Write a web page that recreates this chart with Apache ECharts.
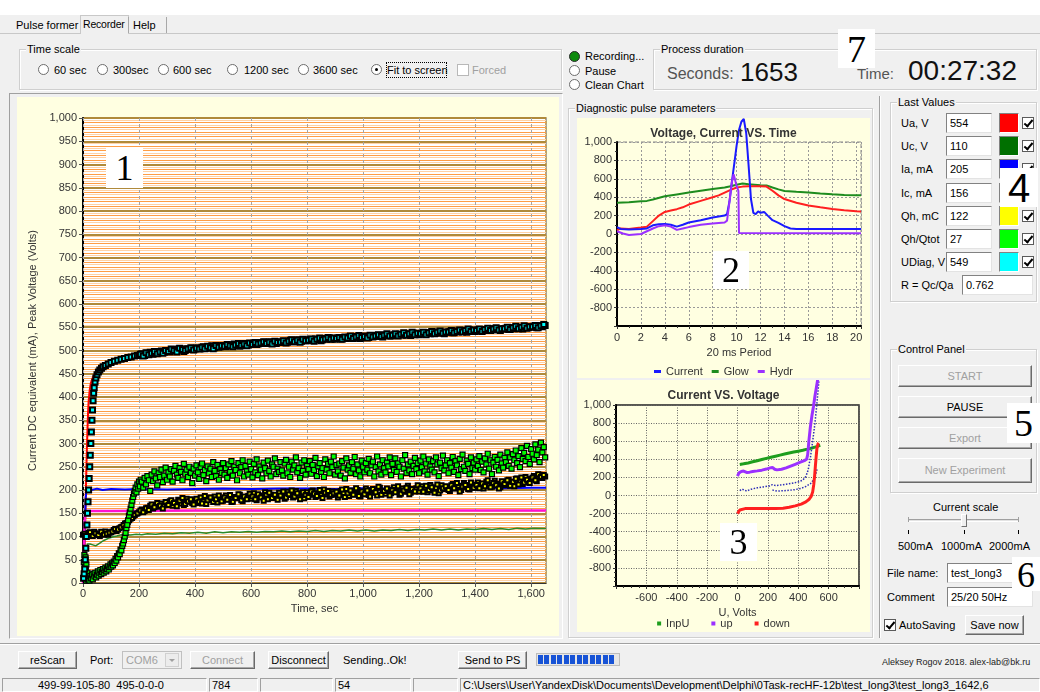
<!DOCTYPE html>
<html><head><meta charset="utf-8">
<script src="https://cdn.jsdelivr.net/npm/echarts@6/dist/echarts.min.js"></script>
<style>
*{box-sizing:border-box}
body{margin:0;width:1040px;height:692px;overflow:hidden;background:#f0f0f0;font:11px "Liberation Sans",Arial,sans-serif;color:#000;position:relative}
.a{position:absolute;white-space:nowrap;line-height:14px}
.grp{position:absolute;border:1px solid #cfcfcf;box-shadow:inset 1px 1px 0 #fff,1px 1px 0 #fff}
.grp>.cap{position:absolute;top:-8px;left:6px;background:#f0f0f0;padding:0 1px;line-height:14px;white-space:nowrap}
.rb{position:absolute;width:11px;height:11px;border-radius:50%;border:1px solid #6d6d6d;background:#fff}
.rb.on::after{content:"";position:absolute;left:3px;top:3px;width:3px;height:3px;border-radius:50%;background:#000}
.cb{position:absolute;width:12px;height:12px;border:1px solid #5a5a5a;background:#fff}
.cb.on::after{content:"";position:absolute;left:3px;top:0px;width:3px;height:7px;border:solid #000;border-width:0 2px 2px 0;transform:rotate(40deg)}
.tb{position:absolute;background:#fff;border:1px solid;border-color:#828282 #e3e3e3 #e3e3e3 #828282;padding:2px 0 0 3px;line-height:14px;height:20px;white-space:nowrap;overflow:hidden}
.btn{position:absolute;background:#f0f0f0;border:1px solid;border-color:#fff #6a6a6a #6a6a6a #fff;box-shadow:inset -1px -1px 0 #a8a8a8;text-align:center;white-space:nowrap}
.dis{color:#a0a0a0}
.num{position:absolute;background:#fff;font-family:"Liberation Serif",serif;text-align:center;color:#000;z-index:5}
.chart{position:absolute;background:#ffffe1}
.sp{position:absolute;top:678px;height:14px;border:1px solid;border-color:#a0a0a0 #fff #fff #a0a0a0;line-height:12px;white-space:nowrap;overflow:hidden;padding-left:2px}
</style></head>
<body>
<script>
// ---------------- DATA ----------------
// Chart 1: recorder (time, sec -> value)
const uaLine = [[0,5],[2,15],[4,30],[6,90],[8,135],[10,190],[12,245],[14,290],[16,330],[18,365],[20,390],[24,415],[28,430],[35,442],[45,452],[60,462],[80,469],[100,474],[150,483],[200,490],[300,499],[400,505],[500,510],[600,514],[700,518],[800,522],[900,526],[1000,529],[1100,532],[1200,535],[1300,539],[1400,543],[1500,546],[1600,550],[1653,554]];
const ucLine = [[5,20],[8,50],[10,65],[13,78],[16,84],[20,86],[25,84],[30,80],[35,82],[40,78],[45,80],[50,83],[60,86],[70,90],[80,93],[90,96],[100,98],[110,100],[120,101],[135,103],[150,104],[170,103],[190,105],[210,104],[230,106],[260,105],[290,107],[320,106],[350,108],[380,107],[410,109],[440,107],[470,110],[500,108],[530,110],[560,109],[590,111],[620,109],[650,111],[680,110],[710,112],[740,110],[770,112],[800,111],[830,113],[860,111],[890,113],[920,112],[950,114],[980,112],[1010,114],[1040,112],[1070,114],[1100,113],[1130,115],[1160,113],[1190,115],[1220,114],[1250,116],[1280,114],[1310,116],[1340,114],[1370,116],[1400,115],[1430,117],[1460,115],[1490,117],[1520,115],[1550,118],[1580,116],[1610,118],[1653,117]];
const iaLine = [[0,0],[2,40],[4,80],[6,110],[8,150],[10,185],[12,197],[16,201],[30,200],[50,203],[70,200],[100,202],[150,201],[200,202],[300,201],[400,202],[500,203],[600,202],[700,203],[800,203],[900,202],[1000,204],[1100,203],[1200,204],[1300,204],[1400,205],[1500,204],[1600,205],[1653,205]];
const icLine = [[0,0],[2,50],[4,100],[6,135],[8,150],[10,155],[30,155],[100,155],[400,156],[800,156],[1200,156],[1653,156]];
// Qh: samples every 10 s from t = 0, and every 10 s from t = 5
const qhVals = [104,100,108,103,110,105,101,107,111,104, 109,114,112,118,121,128,131,138,143,149, 152,158,155,162,166,160,168,164,171,167, 170,176,166,173,179,171,168,181,175,172, 178,172,184,176,170,182,179,186,173,181, 177,188,180,174,185,182,190,176,184,187, 181,193,178,188,185,195,180,190,186,183, 194,187,181,196,189,184,198,188,192,182, 195,190,199,185,193,188,201,191,186,197, 190,184,198,193,202,187,195,191,200,186, 196,203,189,199,194,188,205,197,192,201, 193,206,198,190,203,196,209,194,200,204, 197,208,201,195,211,199,205,193,210,202, 206,198,213,203,209,200,215,207,201,212, 205,216,209,203,218,211,207,220,213,206, 217,210,222,215,208,225,218,213,228,220, 224,230,219,233,226,229];
const qhValsB = [106,102,109,101,107,103,110,104,106,108, 111,116,115,120,125,129,135,140,146,150, 156,152,161,157,169,163,172,166,160,174, 168,178,172,165,177,183,170,176,180,169, 181,175,171,187,178,184,174,180,188,176, 184,179,189,175,183,191,178,186,180,192, 186,180,191,184,177,189,194,183,190,179, 188,197,184,191,199,186,193,180,195,189, 185,197,192,187,200,183,194,198,189,193, 196,188,201,185,193,199,190,204,187,197, 191,199,186,202,195,207,190,198,203,188, 200,195,208,192,199,205,191,202,197,210, 203,196,209,200,206,194,212,199,204,208, 200,210,204,215,197,207,211,202,216,205, 211,204,214,208,221,206,215,210,203,219, 213,221,209,218,224,212,227,216,222,215, 227,221,234,228,232];
// Qh/Qtot: early points, then one sample every 5 s from t = 210
const qtEarly = [[3,45],[5,60],[6,20],[7,35],[8,10],[9,55],[10,28],[11,5],[12,40],[14,15],[16,22],[18,8],[20,12],[23,5],[26,15],[29,10],[32,18],[35,8],[38,20],[41,14],[44,22],[47,12],[50,18],[53,25],[56,16],[59,22],[62,28],[65,19],[68,24],[71,30],[74,22],[77,27],[80,33],[83,25],[86,30],[89,36],[92,29],[95,34],[98,40],[101,35],[104,42],[107,38],[110,46],[113,43],[116,52],[119,48],[122,58],[125,55],[128,64],[131,62],[134,72],[137,70],[140,80],[143,85],[146,92],[149,100],[152,108],[155,118],[158,125],[161,135],[164,145],[167,152],[170,160],[173,168],[176,177],[179,185],[182,192],[185,198],[188,205],[191,195],[194,212],[197,203],[200,218],[203,208],[206,222]];
const qtVals = [218,205,226,212,230,221,198,233,219,240,225,210,236,228,244,217,231,248,222,238,
229,245,218,241,252,233,226,247,239,221,256,235,244,228,250,237,215,246,231,253,
238,224,249,257,232,243,219,251,236,246,228,260,241,230,254,222,245,237,258,233,
247,226,255,239,262,231,250,243,221,258,236,249,264,229,252,240,233,261,245,227,
256,238,266,232,251,244,225,259,247,236,263,241,229,255,250,268,234,246,239,260,
242,231,257,265,236,250,228,261,244,253,270,238,247,226,259,241,264,233,252,245,
262,235,254,243,269,230,251,258,239,247,228,266,244,256,236,261,249,272,233,254,
240,257,231,262,248,225,268,244,253,237,260,246,271,234,255,242,229,263,250,238,
258,244,267,236,253,261,229,249,272,240,255,233,264,247,238,259,251,270,232,256,
243,268,239,257,250,229,264,246,275,237,255,242,261,234,252,269,245,258,236,263,
249,272,240,257,233,266,251,244,262,238,270,255,230,259,247,274,242,253,264,236,
258,248,271,239,262,253,232,267,245,276,250,241,263,256,234,270,247,259,244,266,
252,273,243,261,238,268,255,278,246,264,234,259,271,250,265,242,276,257,248,269,
260,281,252,270,246,277,264,285,258,273,249,290,267,280,262,295,271,256,288,278,
266,298,275,287,260,302,281,292,270];
// UDiag: early points, then samples every 10 s from t = 200 and from t = 205
const udEarly = [[2,10],[4,20],[6,30],[8,50],[10,75],[12,100],[14,125],[16,150],[18,175],[20,200],[22,225],[24,250],[26,275],[28,300],[30,325],[32,350],[34,372],[36,392],[38,408],[40,420],[43,432],[46,441],[50,448],[55,454],[60,458],[66,462],[72,465],[80,468],[90,471],[100,474],[112,477],[124,479],[136,481],[148,483],[160,485],[172,486],[184,488],[194,489]];
const udVals = [490,493,489,494,496,492,497,495,499,496, 500,497,502,499,503,501,498,504,502,505, 503,506,504,508,505,507,510,506,509,508, 511,508,512,510,514,511,509,513,515,512, 514,516,513,517,515,518,516,519,517,515, 519,517,520,518,522,519,521,523,520,522, 521,524,522,525,523,521,526,524,527,525, 524,527,525,528,526,529,527,530,528,526, 529,531,528,532,530,533,531,529,534,532, 531,534,532,535,533,536,534,532,537,535, 534,537,535,538,536,539,537,540,538,536, 539,541,538,542,540,543,541,539,544,542, 541,544,542,545,543,546,544,547,545,543, 546,548,545,549,547,550,548,546,551,549, 550,552,549,553,551,554];
const udValsB = [492,488,495,491,494,498,493,497,494,500, 498,503,500,497,505,502,500,503,506,501, 505,503,507,504,509,506,504,511,507,510, 509,513,510,508,512,515,511,514,510,516, 513,517,514,516,519,515,518,514,520,517, 518,521,516,520,523,519,522,518,524,521, 522,525,520,524,527,523,525,528,524,527, 526,528,524,529,527,531,526,529,532,528, 530,527,533,529,531,534,530,533,536,531, 533,536,531,535,538,533,536,539,534,537, 536,539,534,538,541,536,539,542,537,540, 540,543,538,541,544,540,543,546,541,544, 543,546,541,545,548,543,546,549,544,547, 547,550,545,549,552,547,550,553,548,551, 551,554,549,553,556];

// Chart 2: diagnostic pulse (ms -> value)
const glow = [[0,340],[1,345],[2,355],[2.5,360],[3,375],[4,410],[5,430],[6,450],[7,470],[8,490],[9,505],[9.5,520],[10,535],[10.5,548],[11,540],[12,530],[12.5,528],[13,505],[13.5,485],[14,468],[15,458],[16,450],[17,440],[18,432],[19,425],[20,421],[20.4,420]];
const voltRed = [[0,40],[0.3,60],[1,55],[2,70],[2.5,80],[3,140],[3.5,200],[4,240],[4.5,255],[5,270],[5.5,290],[6,320],[7,360],[8,400],[8.5,420],[9,450],[9.5,480],[10,505],[10.5,515],[11,520],[12,520],[12.5,515],[13,470],[13.5,420],[14,380],[15,340],[16,310],[17,290],[18,272],[19,258],[20,248],[20.4,245]];
const current = [[0,75],[0.3,55],[1,50],[2,55],[2.5,60],[3,95],[3.5,105],[4,110],[4.5,100],[5,80],[5.5,100],[6,125],[7,150],[8,180],[9,200],[9.2,215],[9.4,350],[9.6,560],[9.8,760],[10,960],[10.2,1130],[10.4,1220],[10.6,1250],[10.8,1100],[11,750],[11.2,380],[11.4,230],[11.6,215],[11.8,245],[12,230],[12.3,240],[12.6,200],[13,150],[13.5,120],[14,85],[14.5,60],[15,55],[20.4,55]];
const hydr = [[0,30],[0.5,5],[1,-10],[1.5,-5],[2,0],[2.5,30],[3,60],[3.5,85],[4,95],[4.5,80],[5,45],[5.5,60],[6,75],[7,100],[8,115],[9,125],[9.2,145],[9.4,350],[9.6,560],[9.75,650],[9.85,600],[10,520],[10.15,470],[10.2,10],[20.4,8]];

// Chart 3: current vs voltage (U, Volts -> value)
const inpU = [[15,343],[40,350],[70,360],[100,372],[130,384],[160,397],[190,410],[220,422],[250,434],[280,446],[310,458],[340,470],[370,480],[400,490],[430,500],[460,512],[490,525],[515,538],[535,550],[545,555]];
const upLine = [[0,215],[10,250],[25,265],[40,270],[60,255],[80,258],[100,265],[130,272],[160,280],[190,292],[215,305],[230,310],[245,290],[260,283],[290,290],[320,305],[350,325],[380,345],[410,365],[440,385],[455,400],[462,450],[470,600],[480,760],[490,880],[500,980],[510,1100],[520,1200],[528,1280]];
const downLine = [[0,-200],[8,-190],[15,-160],[25,-145],[50,-145],[100,-145],[150,-145],[200,-145],[250,-143],[300,-140],[340,-130],[380,-115],[420,-95],[450,-70],[470,-45],[485,-10],[495,40],[502,120],[508,220],[513,330],[518,430],[523,520],[530,570],[535,580]];
const midA = [[15,55],[30,70],[45,60],[60,50],[90,70],[130,85],[170,95],[210,105],[230,120],[250,110],[280,115],[320,125],[360,135],[400,150],[430,170],[450,210],[465,280],[480,420],[495,600],[510,800],[522,1000],[530,1150],[536,1260]];
const midB = [[230,60],[260,50],[300,52],[340,58],[380,65],[420,80],[450,100],[480,130],[500,170],[515,230],[525,300]];

// Right panel values
const lastNames = ['Ua, V','Uc, V','Ia, mA','Ic, mA','Qh, mC','Qh/Qtot','UDiag, V'];
const lastVals = ['554','110','205','156','122','27','549'];
const swatchColors = ['#ff0000','#007000','#0000ff','#ff00ff','#ffff00','#00ff00','#00ffff'];
const ratioText = '0.762';
const timeScaleOpts = ['60 sec','300sec','600 sec','1200 sec','3600 sec','Fit to screen'];
</script>

<!-- window chrome -->
<div class="a" style="left:0;top:0;width:1040px;height:15px;background:#fff"></div>
<div class="a" style="left:0;top:33px;width:1040px;height:1px;background:#c8c8c8"></div>
<div class="a" style="left:16px;top:18px">Pulse former</div>
<div class="a" style="left:80px;top:15px;width:49px;height:19px;border:1px solid #c8c8c8;border-bottom:none;background:#f0f0f0;padding:1px 0 0 2px;font-size:10.5px;letter-spacing:-0.2px">Recorder</div>
<div class="a" style="left:128px;top:17px;width:39px;height:16px;border-left:1px solid #a8a8a8;border-right:1px solid #a8a8a8;padding:1px 0 0 4px">Help</div>

<div class="grp" style="left:19px;top:49px;width:543px;height:41px"><div class="cap">Time scale</div></div>
<div id="tsRow"></div>
<div class="a" style="left:386px;top:62px;width:61px;height:16px;border:1px dotted #000"></div>
<div class="cb" style="left:457px;top:64px;border-color:#b8b8b8"></div>
<div class="a dis" style="left:472px;top:63px">Forced</div>

<div class="rb" style="left:569px;top:51px;background:#0d8a0d;border-color:#2a2a2a"></div>
<div class="a" style="left:585px;top:49px">Recording...</div>
<div class="rb" style="left:569px;top:65px"></div>
<div class="a" style="left:585px;top:64px">Pause</div>
<div class="rb" style="left:569px;top:79px"></div>
<div class="a" style="left:585px;top:78px">Clean Chart</div>

<div class="grp" style="left:653px;top:49px;width:384px;height:41px"><div class="cap">Process duration</div></div>
<div class="a" style="left:667px;top:64px;font-size:16px;line-height:19px;color:#555">Seconds:</div>
<div class="a" style="left:740px;top:57px;font-size:26px;line-height:30px;color:#111">1653</div>
<div class="a" style="left:857px;top:65px;font-size:15px;line-height:18px;color:#555">Time:</div>
<div class="a" style="left:908px;top:55px;font-size:28px;line-height:32px;color:#111">00:27:32</div>
<div class="num" style="left:838px;top:29px;width:37px;height:39px;font-size:38px;line-height:40px">7</div>

<!-- main chart -->
<div class="a" style="left:9px;top:93px;width:554px;height:546px;border:1px solid;border-color:#a0a0a0 #fff #fff #a0a0a0"></div>
<div id="c1" class="chart" style="left:17px;top:97px;width:542px;height:539px"></div>
<div class="num" style="left:106px;top:148px;width:37px;height:40px;font-size:36px;line-height:40px">1</div>

<!-- diagnostic -->
<div class="grp" style="left:568px;top:108px;width:305px;height:530px"><div class="cap">Diagnostic pulse parameters</div></div>
<div id="c2" class="chart" style="left:577px;top:118px;width:293px;height:260px"></div>
<div id="c3" class="chart" style="left:577px;top:380px;width:293px;height:252px"></div>
<div class="num" style="left:713px;top:251px;width:36px;height:38px;font-size:36px;line-height:39px">2</div>
<div class="num" style="left:720px;top:523px;width:37px;height:38px;font-size:36px;line-height:39px">3</div>

<div class="a" style="left:879px;top:96px;width:2px;height:542px;border-left:1px solid #a0a0a0;border-right:1px solid #fff"></div>

<!-- last values -->
<div class="grp" style="left:890px;top:102px;width:147px;height:200px"><div class="cap">Last Values</div></div>
<div id="lv"></div>
<div class="a" style="left:901px;top:278px">R = Qc/Qa</div>
<div class="tb" id="ratio" style="left:962px;top:275px;width:71px"></div>
<div class="num" style="left:1000px;top:168px;width:38px;height:39px;font-family:'Liberation Sans',Arial,sans-serif;font-size:40px;line-height:40px">4</div>

<!-- control panel -->
<div class="grp" style="left:890px;top:349px;width:147px;height:144px"><div class="cap">Control Panel</div></div>
<div class="btn dis" style="left:898px;top:365px;width:134px;height:22px;line-height:20px">START</div>
<div class="btn" style="left:898px;top:396px;width:134px;height:22px;line-height:20px">PAUSE</div>
<div class="btn dis" style="left:898px;top:427px;width:134px;height:22px;line-height:20px">Export</div>
<div class="btn dis" style="left:898px;top:458px;width:134px;height:25px;line-height:23px">New Experiment</div>
<div class="num" style="left:1007px;top:403px;width:33px;height:40px;font-size:38px;line-height:40px">5</div>

<div class="a" style="left:933px;top:500px">Current scale</div>
<div class="a" style="left:908px;top:519px;width:111px;height:3px;border-top:1px solid #a0a0a0;border-bottom:1px solid #fff;background:#e3e3e3"></div>
<div class="a" style="left:908px;top:517px;width:1px;height:5px;background:#a0a0a0"></div>
<div class="a" style="left:1018px;top:517px;width:1px;height:5px;background:#a0a0a0"></div>
<div class="a" style="left:961px;top:514px;width:6px;height:13px;background:#f0f0f0;border:1px solid #707070;border-top-color:#fff;border-left-color:#fff"></div>
<div class="a" style="left:908px;top:530px;width:1px;height:4px;background:#000"></div>
<div class="a" style="left:964px;top:530px;width:1px;height:4px;background:#000"></div>
<div class="a" style="left:1018px;top:530px;width:1px;height:4px;background:#000"></div>
<div class="a" style="left:898px;top:539px">500mA</div>
<div class="a" style="left:941px;top:539px">1000mA</div>
<div class="a" style="left:989px;top:539px">2000mA</div>

<div class="a" style="left:887px;top:566px">File name:</div>
<div class="tb" style="left:947px;top:563px;width:86px">test_long3</div>
<div class="num" style="left:1012px;top:557px;width:28px;height:34px;font-size:36px;line-height:36px">6</div>
<div class="a" style="left:887px;top:590px">Comment</div>
<div class="tb" style="left:947px;top:587px;width:86px">25/20 50Hz</div>
<div class="cb on" style="left:884px;top:619px"></div>
<div class="a" style="left:899px;top:618px">AutoSaving</div>
<div class="btn" style="left:965px;top:615px;width:59px;height:20px;line-height:18px">Save now</div>

<!-- bottom bar -->
<div class="a" style="left:0;top:643px;width:1040px;height:2px;border-top:1px solid #a0a0a0;border-bottom:1px solid #fff"></div>
<div class="btn" style="left:18px;top:651px;width:59px;height:18px;line-height:16px">reScan</div>
<div class="a" style="left:90px;top:653px">Port:</div>
<div class="a dis" style="left:122px;top:651px;width:60px;height:18px;border:1px solid #c0c0c0;background:#f0f0f0;padding:1px 0 0 3px">COM6</div>
<div class="a" style="left:165px;top:653px;width:14px;height:14px;border:1px solid #d0d0d0;background:#ececec"></div>
<div class="a" style="left:169px;top:659px;width:0;height:0;border-left:3px solid transparent;border-right:3px solid transparent;border-top:3px solid #a0a0a0"></div>
<div class="btn dis" style="left:190px;top:651px;width:65px;height:18px;line-height:16px">Connect</div>
<div class="btn" style="left:268px;top:651px;width:61px;height:18px;line-height:16px">Disconnect</div>
<div class="a" style="left:343px;top:653px">Sending..Ok!</div>
<div class="btn" style="left:458px;top:651px;width:69px;height:18px;line-height:16px">Send to PS</div>
<div class="a" style="left:536px;top:653px;width:84px;height:13px;border:1px solid #bcbcbc;background:#e6e6e6"></div>
<div class="a" style="left:538px;top:655px;width:77px;height:9px;background:repeating-linear-gradient(90deg,#1753d6 0 5px,transparent 5px 6.5px)"></div>
<div class="a" style="left:882px;top:655px;font-size:9px;color:#222">Aleksey Rogov 2018. alex-lab@bk.ru</div>

<div class="sp" style="left:2px;width:205px;padding-left:35px">499-99-105-80&nbsp;&nbsp;495-0-0-0</div>
<div class="sp" style="left:209px;width:49px">784</div>
<div class="sp" style="left:260px;width:73px"></div>
<div class="sp" style="left:335px;width:76px">54</div>
<div class="sp" style="left:413px;width:45px"></div>
<div class="sp" style="left:460px;width:580px">C:\Users\User\YandexDisk\Documents\Development\Delphi\0Task-recHF-12b\test_long3\test_long3_1642,6</div>

<script>
// ---- UI rows built from arrays ----
(function(){
  const ts = document.getElementById('tsRow');
  const cx = [38,97,158,227,298,371], tx = [54,113,173,244,313,387];
  timeScaleOpts.forEach((t,i)=>{
    ts.insertAdjacentHTML('beforeend',
      `<div class="rb${i===5?' on':''}" style="left:${cx[i]}px;top:64px"></div><div class="a" style="left:${tx[i]}px;top:63px">${t}</div>`);
  });
  const lv = document.getElementById('lv');
  lastNames.forEach((n,i)=>{
    const cy = 123 + i*23.2;
    lv.insertAdjacentHTML('beforeend',
      `<div class="a" style="left:901px;top:${cy-7}px">${n}</div>`+
      `<div class="tb" style="left:946px;top:${cy-10}px;width:46px">${lastVals[i]}</div>`+
      `<div class="a" style="left:999px;top:${cy-10}px;width:20px;height:20px;border:1px solid;border-color:#828282 #fff #fff #828282;background:${swatchColors[i]}"></div>`+
      `<div class="cb on" style="left:1022px;top:${cy-6}px"></div>`);
  });
  document.getElementById('ratio').textContent = ratioText;
})();

// ---- Charts ----
const FF = '"Liberation Sans", Arial, sans-serif';
const stepped = (t0, dt, vals) => vals.map((v,i)=>[t0+i*dt, v]);
const sq = (name, data, color, size, bw) => ({name, type:'scatter', data, symbol:'rect', symbolSize:size, silent:true, z:3,
  itemStyle:{color, borderColor:'#000', borderWidth:bw, opacity:1}});
const ln = (name, data, color, w, extra) => Object.assign({name, type:'line', data, showSymbol:false, silent:true, z:2,
  lineStyle:{color, width:w}, itemStyle:{color}}, extra||{});
const lbl = {fontFamily:FF, fontSize:11, color:'#333'};

const c1 = echarts.init(document.getElementById('c1'));
c1.setOption({
  animation:false,
  grid:{left:66,right:13,top:21,bottom:53,show:true,backgroundColor:'#fff',borderColor:'#a8873c',borderWidth:1.5,outerBoundsMode:'none'},
  xAxis:{type:'value',min:0,max:1653,interval:200,z:2,
    name:'Time, sec',nameLocation:'middle',nameGap:20,nameTextStyle:lbl,
    axisLine:{lineStyle:{color:'#333',width:1}},axisTick:{show:true,length:4,lineStyle:{color:'#555'}},
    axisLabel:Object.assign({showMaxLabel:false,margin:5},lbl),
    splitLine:{show:true,lineStyle:{color:'#a4a4a4',width:1,type:[3,3]}}},
  yAxis:[
    {type:'value',min:0,max:1000,interval:50,z:1,
      name:'Current DC equivalent (mA), Peak Voltage (Volts)',nameLocation:'middle',nameGap:43,nameTextStyle:lbl,
      axisLine:{show:true,lineStyle:{color:'#000',width:2}},axisTick:{show:true,length:4,lineStyle:{color:'#555'}},
      axisLabel:Object.assign({margin:6},lbl),
      splitLine:{show:true,lineStyle:{color:'#b08a3a',width:2}},
      minorTick:{show:false,splitNumber:5},
      minorSplitLine:{show:true,lineStyle:{color:'#ff9d45',width:1}}},
    {type:'value',min:0,max:1000,interval:5,z:0,position:'left',
      axisLine:{show:false},axisTick:{show:false},axisLabel:{show:false},
      splitLine:{show:true,lineStyle:{color:'#ffd2a6',width:1}}}
  ],
  series:[
    ln('Ua, V', uaLine, '#ff0000', 2),
    ln('Uc, V', ucLine, '#2a8a2a', 1.5),
    ln('Ia, mA', iaLine, '#0000ff', 2),
    ln('Ic, mA', icLine, '#ff10d0', 2.5),
    sq('Qh, mC', stepped(0,10,qhVals).concat(stepped(5,10,qhValsB)), '#ffff00', 4, 2),
    sq('Qh/Qtot', qtEarly.concat(stepped(210,5,qtVals)), '#00ff00', 5, 1.2),
    sq('UDiag, V', udEarly.concat(stepped(200,10,udVals), stepped(205,10,udValsB)), '#00ffff', 5, 2)
  ]
});

const c2 = echarts.init(document.getElementById('c2'));
c2.setOption({
  animation:false,
  title:{text:'Voltage, Current VS. Time',left:'center',top:5,textStyle:{fontFamily:FF,fontSize:12,fontWeight:'bold',color:'#333'}},
  grid:{left:40,right:9,top:24,bottom:52,show:true,borderColor:'#888',borderWidth:1,borderType:'dashed',outerBoundsMode:'none'},
  legend:{top:243,left:'center',icon:'rect',itemWidth:7,itemHeight:3,itemGap:9,textStyle:lbl,data:['Current','Glow','Hydr']},
  xAxis:{type:'value',min:0,max:20.4,interval:2,name:'20 ms Period',nameLocation:'middle',nameGap:21,nameTextStyle:lbl,
    axisLine:{onZero:false,lineStyle:{color:'#000',width:2}},axisTick:{show:true,length:3,lineStyle:{color:'#333'}},
    minorTick:{show:true,splitNumber:2,length:2,lineStyle:{color:'#333'}},
    axisLabel:Object.assign({showMaxLabel:false,margin:6},lbl),
    splitLine:{show:true,lineStyle:{color:'#999',type:[2,2]}}},
  yAxis:{type:'value',min:-1000,max:1000,interval:200,
    axisLine:{show:true,onZero:false,lineStyle:{color:'#000',width:2}},axisTick:{show:true,length:3,lineStyle:{color:'#333'}},
    minorTick:{show:true,splitNumber:2,length:2,lineStyle:{color:'#333'}},
    axisLabel:Object.assign({showMinLabel:false,margin:5},lbl),
    splitLine:{show:true,lineStyle:{color:'#999',type:[2,2]}}},
  series:[
    ln('Glow', glow, '#1e8c1e', 2),
    ln('Voltage', voltRed, '#ff2020', 2),
    ln('Current', current, '#1a1aff', 2, {clip:false}),
    ln('Hydr', hydr, '#9b30ff', 2, {clip:false})
  ]
});

const c3 = echarts.init(document.getElementById('c3'));
c3.setOption({
  animation:false,
  title:{text:'Current VS. Voltage',left:'center',top:5,textStyle:{fontFamily:FF,fontSize:12,fontWeight:'bold',color:'#333'}},
  grid:{left:39,right:11,top:25,bottom:46,show:true,borderColor:'#222',borderWidth:1.5,outerBoundsMode:'none'},
  legend:{top:233,left:'center',icon:'rect',itemWidth:4,itemHeight:4,itemGap:22,textStyle:lbl,data:['InpU','up','down']},
  xAxis:{type:'value',min:-800,max:800,interval:200,name:'U, Volts',nameLocation:'middle',nameGap:19,nameTextStyle:lbl,
    axisLine:{onZero:false,lineStyle:{color:'#000',width:2}},axisTick:{show:true,length:3,lineStyle:{color:'#333'}},
    minorTick:{show:true,splitNumber:4,length:2,lineStyle:{color:'#333'}},
    axisLabel:Object.assign({showMinLabel:false,showMaxLabel:false,margin:6},lbl),
    splitLine:{show:true,lineStyle:{color:'#666',type:[1,1.5]}}},
  yAxis:{type:'value',min:-1000,max:1000,interval:200,
    axisLine:{show:true,onZero:false,lineStyle:{color:'#000',width:2}},axisTick:{show:true,length:3,lineStyle:{color:'#333'}},
    minorTick:{show:true,splitNumber:4,length:2,lineStyle:{color:'#333'}},
    axisLabel:Object.assign({showMinLabel:false,margin:5},lbl),
    splitLine:{show:true,lineStyle:{color:'#666',type:[1,1.5]}}},
  series:[
    ln('InpU', inpU, '#1e9e1e', 3),
    ln('mid A', midA, '#2e2eb8', 1, {clip:false, lineStyle:{color:'#2e2eb8',width:1.5,type:[1.5,1.5]}}),
    ln('mid B', midB, '#2e2eb8', 1, {lineStyle:{color:'#2e2eb8',width:1.5,type:[1.5,1.5]}}),
    ln('up', upLine, '#9b30ff', 3, {clip:false}),
    ln('down', downLine, '#ff2020', 3)
  ]
});
</script>
</body></html>
